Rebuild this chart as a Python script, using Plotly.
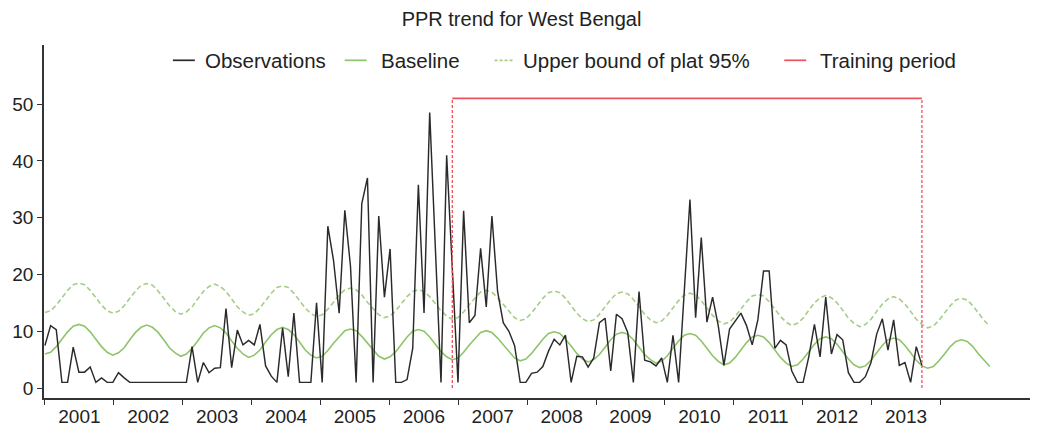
import numpy as np
import plotly.graph_objects as go

# Monthly PPR observations, Jan 2001 - Dec 2013
observations = [
    7.5, 11, 10.3, 1, 1, 7.2, 2.8, 2.8, 3.7, 1, 1.8, 1,            # 2001
    1, 2.7, 1.8, 1, 1, 1, 1, 1, 1, 1, 1, 1,                        # 2002
    1, 1, 7.3, 1, 4.5, 2.7, 3.5, 3.6, 14, 3.6, 10.2, 7.6,          # 2003
    8.4, 7.6, 11.2, 3.9, 2.1, 1, 10.6, 2, 13.2, 1, 1, 1,           # 2004
    15, 1, 28.5, 22.5, 13.2, 31.3, 21.5, 1, 32.5, 37, 1, 30.3,     # 2005
    16, 24.5, 1, 1, 1.5, 7, 35.8, 13.2, 48.5, 24, 1, 41,           # 2006
    20, 1, 31.2, 11.5, 12.8, 24.6, 14.3, 30.3, 17, 11.5, 10, 7.5,  # 2007
    1, 1, 2.6, 2.8, 3.8, 6.5, 8.6, 7.6, 9.3, 1, 5.6, 5.5,          # 2008
    3.7, 5.3, 11.5, 12.3, 3, 13, 12.2, 9.8, 1, 17, 4.9, 4.6,       # 2009
    3.9, 5.3, 1, 9.3, 1, 17, 33.2, 12.4, 26.5, 11.6, 16, 11,       # 2010
    4, 10.4, 11.7, 13.2, 11, 7.6, 12, 20.6, 20.6, 7, 8.4, 7.6,     # 2011
    3, 1, 1, 5.5, 11.2, 5.5, 16, 6, 9.4, 8.5, 2.7, 1,              # 2012
    1, 2, 4.5, 9.5, 12.2, 6.7, 12, 4, 4.5, 1, 7.3, 4,              # 2013
]

# Seasonal baseline, Jan 2001 - Dec 2014
baseline = [
    6.0, 6.3, 7.3, 8.6, 9.9, 10.9, 11.2, 10.9, 9.9, 8.6, 7.3, 6.3,   # 2001
    5.8, 6.2, 7.1, 8.5, 9.8, 10.7, 11.1, 10.7, 9.8, 8.5, 7.1, 6.2,   # 2002
    5.6, 6.0, 7.0, 8.3, 9.7, 10.6, 11.0, 10.6, 9.7, 8.3, 7.0, 6.0,   # 2003
    5.4, 5.8, 6.7, 8.1, 9.4, 10.3, 10.7, 10.3, 9.4, 8.1, 6.7, 5.8,   # 2004
    5.3, 5.6, 6.6, 7.9, 9.1, 10.1, 10.4, 10.1, 9.1, 7.9, 6.6, 5.6,   # 2005
    5.1, 5.5, 6.4, 7.7, 9.0, 10.0, 10.3, 10.0, 9.0, 7.7, 6.4, 5.5,   # 2006
    5.0, 5.3, 6.3, 7.6, 8.8, 9.8, 10.1, 9.8, 8.8, 7.6, 6.3, 5.3,     # 2007
    4.8, 5.1, 6.1, 7.4, 8.6, 9.6, 9.9, 9.6, 8.6, 7.4, 6.1, 5.1,      # 2008
    4.6, 5.0, 5.9, 7.2, 8.5, 9.5, 9.8, 9.5, 8.5, 7.2, 5.9, 5.0,      # 2009
    4.4, 4.7, 5.7, 7.0, 8.3, 9.3, 9.6, 9.3, 8.3, 7.0, 5.7, 4.7,      # 2010
    4.1, 4.4, 5.4, 6.7, 8.0, 9.0, 9.3, 9.0, 8.0, 6.7, 5.4, 4.4,      # 2011
    3.8, 4.1, 5.1, 6.4, 7.7, 8.7, 9.0, 8.7, 7.7, 6.4, 5.1, 4.1,      # 2012
    3.6, 3.9, 4.9, 6.2, 7.5, 8.5, 8.8, 8.5, 7.5, 6.2, 4.9, 3.9,      # 2013
    3.5, 3.8, 4.8, 6.0, 7.3, 8.2, 8.5, 8.2, 7.3, 6.0, 4.8, 3.8,      # 2014
]

# Upper bound of the 95% plateau, Jan 2001 - Dec 2014
upper_bound = [
    13.3, 13.6, 14.6, 15.9, 17.2, 18.2, 18.5, 18.2, 17.2, 15.9, 14.6, 13.6,  # 2001
    13.2, 13.5, 14.5, 15.8, 17.1, 18.1, 18.4, 18.1, 17.1, 15.8, 14.5, 13.5,  # 2002
    13.0, 13.4, 14.3, 15.7, 17.0, 17.9, 18.3, 17.9, 17.0, 15.7, 14.3, 13.4,  # 2003
    12.8, 13.1, 14.1, 15.4, 16.7, 17.7, 18.0, 17.7, 16.7, 15.4, 14.1, 13.1,  # 2004
    12.6, 12.9, 13.9, 15.1, 16.4, 17.3, 17.6, 17.3, 16.4, 15.1, 13.9, 12.9,  # 2005
    12.4, 12.7, 13.6, 14.9, 16.1, 17.0, 17.3, 17.0, 16.1, 14.9, 13.6, 12.7,  # 2006
    12.1, 12.4, 13.4, 14.7, 15.9, 16.9, 17.2, 16.9, 15.9, 14.7, 13.4, 12.4,  # 2007
    11.9, 12.2, 13.2, 14.5, 15.8, 16.8, 17.1, 16.8, 15.8, 14.5, 13.2, 12.2,  # 2008
    11.7, 12.0, 13.0, 14.3, 15.6, 16.6, 16.9, 16.6, 15.6, 14.3, 13.0, 12.0,  # 2009
    11.5, 11.8, 12.8, 14.1, 15.4, 16.4, 16.7, 16.4, 15.4, 14.1, 12.8, 11.8,  # 2010
    11.3, 11.6, 12.6, 13.9, 15.2, 16.2, 16.5, 16.2, 15.2, 13.9, 12.6, 11.6,  # 2011
    11.0, 11.4, 12.3, 13.7, 15.0, 15.9, 16.3, 15.9, 15.0, 13.7, 12.3, 11.4,  # 2012
    10.8, 11.2, 12.1, 13.5, 14.8, 15.7, 16.1, 15.7, 14.8, 13.5, 12.1, 11.2,  # 2013
    10.6, 10.9, 11.9, 13.2, 14.5, 15.5, 15.8, 15.5, 14.5, 13.2, 11.9, 10.9,  # 2014
]

year_labels = [str(y) for y in range(2001, 2014)]
training_start_month = 72   # Jan 2007 (months since Jan 2001)
training_end_month = 155    # Dec 2013
training_level = 51

# Time axis in days since 1 Jan 2001: monthly records on a 30-day step,
# calendar years of 365.25 days for the year ticks.
DAYS_PER_MONTH = 30
DAYS_PER_YEAR = 365.25
obs_x = np.arange(len(observations)) * DAYS_PER_MONTH
model_x = np.arange(len(baseline)) * DAYS_PER_MONTH
train_x0 = training_start_month * DAYS_PER_MONTH
train_x1 = training_end_month * DAYS_PER_MONTH

year_starts = np.arange(len(year_labels) + 1) * DAYS_PER_YEAR
year_mids = (np.arange(len(year_labels)) + 0.5) * DAYS_PER_YEAR

FONT = "Liberation Sans, Arial, sans-serif"
C_TEXT = "#222222"
C_OBS = "#2a2a2a"
C_BASE = "#8ec46a"
C_UPPER = "#a6cd88"
C_TRAIN = "#f0505c"

fig = go.Figure()

fig.add_trace(go.Scatter(x=model_x, y=upper_bound, mode="lines",
                         line=dict(color=C_UPPER, width=1.6, dash="5px,3px"),
                         name="Upper bound of plat 95%"))
fig.add_trace(go.Scatter(x=model_x, y=baseline, mode="lines",
                         line=dict(color=C_BASE, width=1.6), name="Baseline"))
fig.add_trace(go.Scatter(x=obs_x, y=observations, mode="lines",
                         line=dict(color=C_OBS, width=1.45), name="Observations"))

# Training period bracket: solid top, dashed sides
fig.add_trace(go.Scatter(x=[train_x0, train_x1], y=[training_level, training_level],
                         mode="lines", line=dict(color=C_TRAIN, width=1.6),
                         name="Training period"))
for edge in (train_x0, train_x1):
    fig.add_trace(go.Scatter(x=[edge, edge], y=[0, training_level], mode="lines",
                             line=dict(color=C_TRAIN, width=1.3, dash="3px,2px"),
                             showlegend=False))

fig.update_traces(hoverinfo="skip")

# Legend drawn as a single row of line samples and labels
legend_items = [
    ("Observations", C_OBS, "solid", 172, 194, 202),
    ("Baseline", C_BASE, "solid", 344, 366, 378),
    ("Upper bound of plat 95%", C_UPPER, "3px,2px", 494, 514, 520),
    ("Training period", C_TRAIN, "solid", 784, 806, 818),
]
PLOT_L, PLOT_R, PLOT_T, PLOT_B = 43, 1030, 45, 414
W, H = 1043, 439


def px_x(px):
    return (px - PLOT_L) / (PLOT_R - PLOT_L)


def px_y(py):
    return (PLOT_B - py) / (PLOT_B - PLOT_T)


legend_y = 61
for label, color, dash, x0, x1, tx in legend_items:
    fig.add_shape(type="line", xref="paper", yref="paper",
                  x0=px_x(x0), x1=px_x(x1), y0=px_y(legend_y), y1=px_y(legend_y),
                  line=dict(color=color, width=1.7, dash=dash))
    fig.add_annotation(xref="paper", yref="paper", x=px_x(tx), y=px_y(legend_y),
                       text=label, showarrow=False, xanchor="left", yanchor="middle",
                       font=dict(family=FONT, size=20.5, color=C_TEXT))

fig.update_layout(
    width=W, height=H,
    margin=dict(l=PLOT_L, r=W - PLOT_R, t=PLOT_T, b=H - PLOT_B),
    paper_bgcolor="white", plot_bgcolor="white",
    showlegend=False,
    font=dict(family=FONT, size=18, color=C_TEXT),
    title=dict(text="PPR trend for West Bengal", x=0.5, xanchor="center",
               y=1 - 19 / H, yanchor="middle",
               font=dict(family=FONT, size=20, color=C_TEXT)),
    xaxis=dict(
        range=[-5, 5223],
        showgrid=False, zeroline=False,
        showline=True, linecolor="#333333", linewidth=2,
        tickmode="array", tickvals=year_mids, ticktext=year_labels,
        ticks="", tickfont=dict(size=19, color=C_TEXT),
        minor=dict(tickmode="array", tickvals=year_starts, ticks="outside",
                   ticklen=5, tickwidth=1.2, tickcolor="#333333", showgrid=False),
    ),
    yaxis=dict(
        range=[-1.75, 60.4],
        showgrid=False, zeroline=False,
        showline=True, linecolor="#333333", linewidth=1.5,
        tickmode="array", tickvals=[0, 10, 20, 30, 40, 50],
        ticks="outside", ticklen=5, tickwidth=1.2, tickcolor="#333333",
        tickfont=dict(size=19, color=C_TEXT),
    ),
)

fig.write_html("out.html")
